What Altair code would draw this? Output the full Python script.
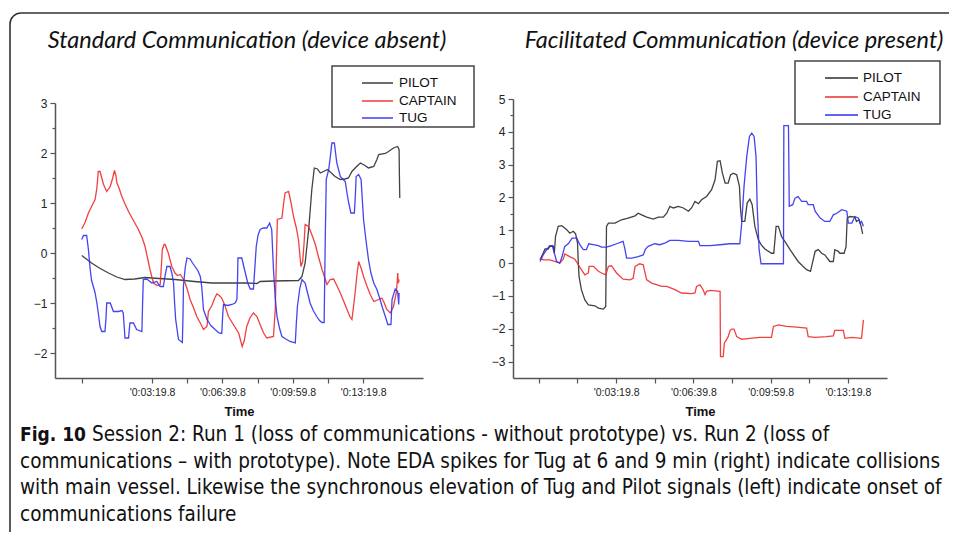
import altair as alt
import pandas as pd

SERIES = ["PILOT", "CAPTAIN", "TUG"]
COLORS = ["#2e2e2e", "#ee2b2b", "#3030f0"]

# ---- left panel (device absent): (seconds, EDA z-score)
L_PILOT = [(0,-0.05),(28,-0.2),(50,-0.3),(76,-0.4),(100,-0.48),(123,-0.53),(150,-0.52),(180,-0.49),
           (220,-0.51),(265,-0.53),(320,-0.57),(370,-0.6),(420,-0.6),(465,-0.6),(498,-0.61),(507,-0.57),
           (545,-0.56),(616,-0.55),(626,-0.47),(635,-0.2),(645,0.47),(654,1.27),(661,1.7),(670,1.68),
           (678,1.6),(699,1.67),(720,1.53),(735,1.47),(748,1.48),(758,1.5),(768,1.63),(780,1.72),
           (792,1.8),(805,1.75),(815,1.7),(830,1.73),(839,1.87),(844,1.97),(863,1.99),(872,2.03),
           (886,2.1),(898,2.13),(902,2.07),(903,1.53),(904,1.1)]
L_CAPTAIN = [(0,0.48),(10,0.62),(19,0.8),(28,0.93),(38,1.07),(43,1.3),(47,1.63),(52,1.63),(57,1.5),
             (62,1.37),(71,1.23),(81,1.33),(88,1.5),(93,1.65),(97,1.55),(100,1.4),(106,1.3),(114,1.13),
             (123,0.98),(133,0.83),(147,0.65),(161,0.47),(172,0.3),(180,0.13),(187,-0.1),(194,-0.33),
             (200,-0.5),(204,-0.6),(214,-0.65),(223,-0.63),(226,-0.3),(229,0.07),(234,0.17),(237,0.17),
             (246,0),(256,-0.27),(265,-0.4),(272,-0.45),(280,-0.43),(287,-0.5),(294,-0.6),(301,-0.75),
             (308,-0.93),(318,-1.1),(327,-1.27),(337,-1.4),(346,-1.53),(356,-1.47),(360,-1.17),
             (370,-1.05),(378,-0.9),(384,-0.82),(391,-0.85),(398,-0.9),(407,-1.05),(417,-1.27),
             (430,-1.42),(446,-1.6),(456,-1.87),(462,-1.75),(469,-1.47),(478,-1.3),(488,-1.2),
             (498,-1.27),(508,-1.45),(517,-1.6),(526,-1.7),(545,-1.67),(550,-1.13),(553,-0.2),
             (556,0.67),(569,0.7),(574,1.0),(578,1.2),(588,1.23),(595,1.0),(602,0.73),(610,0.5),
             (616,0.27),(623,-0.27),(628,-0.17),(632,0.2),(635,0.57),(645,0.53),(655,0.35),(664,0.17),
             (673,-0.08),(683,-0.33),(697,-0.63),(706,-0.53),(716,-0.52),(725,-0.65),(735,-0.8),
             (745,-0.97),(754,-1.13),(762,-1.27),(768,-1.33),(772,-1.1),(777,-0.8),(782,-0.45),
             (787,-0.17),(794,-0.3),(801,-0.47),(810,-0.65),(820,-0.83),(830,-0.97),(844,-0.93),
             (853,-0.9),(860,-1.0),(867,-1.13),(877,-1.2),(886,-1.07),(894,-0.8),(897,-0.55),
             (898,-0.4),(900,-0.6),(902,-0.53)]
L_TUG = [(0,0.27),(5,0.35),(14,0.35),(19,0.07),(24,-0.33),(28,-0.55),(33,-0.67),(38,-0.8),(43,-1.0),
         (47,-1.2),(52,-1.47),(57,-1.57),(66,-1.57),(69,-1.3),(71,-1.0),(81,-1.0),(90,-1.17),(104,-1.17),
         (114,-1.15),(118,-1.2),(121,-1.5),(123,-1.7),(133,-1.7),(137,-1.4),(147,-1.4),(156,-1.53),
         (171,-1.57),(173,-1.0),(175,-0.53),(185,-0.52),(199,-0.6),(213,-0.57),(223,-0.67),(232,-0.67),
         (237,-0.45),(242,-0.27),(251,-0.27),(256,-0.4),(261,-0.6),(264,-1.0),(267,-1.33),(275,-1.73),
         (286,-1.79),(288,-1.2),(289,-0.67),(294,-0.3),(299,-0.1),(308,-0.12),(315,-0.2),(322,-0.27),
         (330,-0.35),(337,-0.47),(341,-0.67),(346,-1.13),(356,-1.33),(367,-1.45),(379,-1.53),
         (390,-1.6),(398,-1.61),(401,-1.2),(403,-1.03),(415,-1.05),(427,-1.03),(436,-1.0),(441,-0.93),
         (443,-0.5),(444,-0.1),(455,-0.1),(465,-0.4),(472,-0.6),(479,-0.72),(488,-0.72),(492,-0.3),
         (496,0.13),(501,0.35),(507,0.47),(516,0.5),(526,0.5),(534,0.6),(540,0.47),(545,-0.33),
         (550,-0.9),(555,-1.27),(562,-1.5),(569,-1.67),(580,-1.72),(592,-1.77),(607,-1.8),(610,-1.4),
         (613,-1.07),(620,-0.7),(626,-0.53),(635,-0.6),(642,-0.8),(649,-1.0),(658,-1.15),(668,-1.27),
         (676,-1.35),(683,-1.39),(689,-1.39),(692,0.2),(695,1.47),(702,1.67),(707,1.95),(711,2.2),
         (718,2.2),(725,1.8),(735,1.53),(742,1.48),(749,1.43),(754,1.2),(758,1.03),(765,0.8),(775,0.8),
         (778,1.2),(780,1.53),(787,1.57),(794,1.47),(801,0.67),(808,0.25),(815,-0.13),(822,-0.4),
         (830,-0.6),(839,-0.73),(848,-0.93),(855,-1.1),(863,-1.27),(870,-1.43),(879,-1.43),(882,-0.93),
         (891,-0.72),(898,-0.77),(901,-1.03),(902,-0.8)]

# ---- right panel (device present)
R_PILOT = [(3,0.1),(11,0.3),(16,0.43),(24,0.43),(28,0.5),(37,0.52),(40,0.3),(43,0.81),(50,1.12),
           (59,1.14),(66,1.08),(72,1.02),(80,0.91),(89,0.97),(95,0.89),(100,0.61),(102,0.0),(104,-0.41),
           (110,-0.81),(119,-1.12),(128,-1.27),(145,-1.3),(154,-1.37),(167,-1.4),(173,-1.32),(175,1.12),
           (180,1.22),(197,1.22),(214,1.32),(231,1.37),(249,1.44),(257,1.52),(266,1.47),(279,1.4),
           (296,1.34),(309,1.4),(322,1.4),(331,1.52),(339,1.73),(348,1.68),(361,1.73),(374,1.68),
           (387,1.58),(395,1.68),(404,1.88),(413,1.81),(421,1.93),(434,2.03),(447,2.24),(456,2.54),
           (462,3.1),(469,3.12),(475,2.74),(482,2.44),(490,2.44),(496,2.69),(503,2.74),(512,2.69),
           (519,2.34),(522,1.63),(525,1.27),(533,1.27),(539,1.83),(546,1.95),(552,1.78),(559,1.12),
           (568,0.71),(576,0.55),(585,0.43),(602,0.3),(608,0.3),(614,1.12),(620,1.12),(628,0.81),
           (640,0.6),(650,0.41),(661,0.22),(671,0.05),(682,-0.08),(693,-0.2),(703,-0.25),(715,0.36),
           (723,0.41),(732,0.3),(740,0.25),(753,0.05),(762,0.05),(766,0.41),(775,0.36),(779,0.3),
           (790,0.3),(795,0.5),(798,1.37),(805,1.42),(818,1.4),(822,1.27),(829,1.32),(834,1.12),(838,0.89)]
R_CAPTAIN = [(3,0.15),(11,0.1),(28,0.1),(41,0.05),(54,0.0),(63,0.12),(67,0.28),(80,0.2),(93,0.12),
             (102,-0.05),(110,-0.2),(119,-0.36),(128,-0.3),(130,-0.1),(141,-0.1),(154,-0.25),(162,-0.3),
             (173,-0.36),(180,-0.1),(188,-0.08),(201,-0.3),(218,-0.49),(236,-0.51),(244,-0.46),(249,-0.1),
             (261,-0.02),(270,-0.05),(279,-0.51),(292,-0.61),(318,-0.71),(331,-0.71),(352,-0.81),
             (369,-0.91),(395,-0.93),(404,-0.91),(408,-0.71),(417,-0.66),(425,-0.81),(430,-0.96),
             (434,-0.86),(443,-0.83),(469,-0.86),(470,-2.85),(477,-2.85),(480,-2.44),(490,-2.24),
             (495,-2.05),(499,-2.01),(505,-2.01),(512,-2.24),(525,-2.32),(546,-2.29),(572,-2.26),
             (602,-2.26),(607,-1.93),(620,-1.88),(641,-1.93),(667,-1.95),(693,-1.98),(697,-2.24),
             (715,-2.26),(745,-2.24),(762,-2.22),(766,-2.05),(788,-2.05),(792,-2.29),(810,-2.26),
             (835,-2.29),(840,-1.73)]
R_TUG = [(3,0.05),(11,0.25),(20,0.41),(28,0.53),(35,0.53),(40,0.3),(46,0.05),(54,0.0),(60,0.2),
         (67,0.51),(76,0.59),(86,0.76),(98,0.76),(106,0.56),(115,0.41),(123,0.41),(129,0.59),(141,0.56),
         (154,0.53),(162,0.49),(175,0.49),(188,0.53),(201,0.59),(218,0.66),(223,0.41),(227,0.15),
         (240,0.15),(257,0.2),(270,0.25),(276,0.43),(283,0.51),(300,0.59),(313,0.56),(326,0.61),
         (339,0.69),(361,0.69),(387,0.66),(413,0.66),(417,0.53),(443,0.53),(469,0.56),(494,0.59),
         (520,0.59),(525,1.22),(531,2.34),(538,3.25),(545,3.86),(551,3.96),(557,3.86),(562,3.25),
         (565,1.73),(570,0.41),(575,-0.02),(633,-0.02),(634,4.19),(646,4.19),(648,1.73),(657,1.78),
         (663,1.98),(671,2.03),(680,1.88),(693,1.88),(697,1.78),(710,1.78),(715,1.58),(728,1.37),
         (740,1.27),(753,1.27),(762,1.47),(771,1.52),(784,1.63),(797,1.58),(801,1.22),(810,1.22),
         (818,1.42),(827,1.37),(831,1.22),(835,1.27),(840,1.12)]

X_TICKS_LEFT = [0, 199.8, 299.8, 399.8, 499.8, 599.8, 699.8, 799.8]
X_TICKS_RIGHT = [0, 99.8, 199.8, 299.8, 399.8, 499.8, 599.8, 699.8, 799.8]
X_LABELS = {199.8: "'0:03:19.8", 399.8: "'0:06:39.8", 599.8: "'0:09:59.8", 799.8: "'0:13:19.8"}
Y_TICKS_LEFT = [-2, -1, 0, 1, 2, 3]
Y_TICKS_RIGHT = [-3, -2, -1, 0, 1, 2, 3, 4, 5]

TITLE_LEFT = "Standard Communication (device absent)"
TITLE_RIGHT = "Facilitated Communication (device present)"
CAPTION_BOLD = "Fig. 10"
CAPTION_LINES = [
    "Session 2: Run 1 (loss of communications - without prototype) vs. Run 2 (loss of",
    "communications \u2013 with prototype). Note EDA spikes for Tug at 6 and 9 min (right) indicate collisions",
    "with main vessel. Likewise the synchronous elevation of Tug and Pilot signals (left) indicate onset of",
    "communications failure",
]


def frame(series_points):
    rows = []
    for name, pts in series_points:
        for t, v in pts:
            rows.append({"t": t, "v": v, "series": name})
    return pd.DataFrame(rows)


left_df = frame([("PILOT", L_PILOT), ("CAPTAIN", L_CAPTAIN), ("TUG", L_TUG)])
right_df = frame([("PILOT", R_PILOT), ("CAPTAIN", R_CAPTAIN), ("TUG", R_TUG)])

label_expr = " : ".join(f'datum.value == {k} ? "{v}"' for k, v in X_LABELS.items()) + " : ''"

AX = dict(grid=False, domainColor="#555555", domainWidth=1.5, tickColor="#555555", tickWidth=1.2,
          labelFont="Liberation Sans", labelColor="#222222")
color = alt.Color("series:N", scale=alt.Scale(domain=SERIES, range=COLORS), legend=None)
W, H = 941, 524


def panel(df, xdom, xrange, ydom, yrange, xticks, yticks, xoff, yoff):
    xs = alt.Scale(domain=xdom, range=xrange, nice=False, zero=False)
    ys = alt.Scale(domain=ydom, range=yrange, nice=False, zero=False)
    lines = alt.Chart(df).mark_line(strokeWidth=1.3, opacity=0.9, interpolate="linear").encode(
        x=alt.X("t:Q", scale=xs, axis=alt.Axis(orient="bottom", offset=xoff, values=xticks,
                                               labelExpr=label_expr, title="Time", tickSize=5,
                                               labelFontSize=10.5, labelPadding=4, labelOverlap=False,
                                               labelFlush=False, titleFont="Liberation Sans",
                                               titleFontSize=13, titleFontWeight="bold",
                                               titleColor="#111111", titlePadding=8, **AX)),
        y=alt.Y("v:Q", scale=ys, axis=alt.Axis(orient="left", offset=yoff, values=yticks, format="d",
                                               title=None, tickSize=5, labelFontSize=12,
                                               labelPadding=3, **AX)),
        color=color,
    )
    minor_vals = [y + 0.5 for y in range(int(ydom[0]), int(ydom[1]))]
    minor = alt.Chart(df).mark_point(opacity=0).encode(
        y=alt.Y("v:Q", scale=ys, axis=alt.Axis(orient="left", offset=yoff, values=minor_vals,
                                               labels=False, domain=False, title=None, tickSize=3,
                                               grid=False, tickColor="#555555", tickWidth=1.2)),
    )
    return lines, minor


lines_l, minor_l = panel(left_df, [-76, 970], [47, 415], [-2.5, 3], [370, 95],
                         X_TICKS_LEFT, Y_TICKS_LEFT, -(H - 370), -47)
lines_r, minor_r = panel(right_df, [-67, 901], [505, 879], [-3.5, 5], [370, 91],
                         X_TICKS_RIGHT, Y_TICKS_RIGHT, -(H - 370), -505)

one = pd.DataFrame({"a": [0]})
deco = []

# frame around figure
deco.append(alt.Chart(one).mark_rect(cornerRadius=11, fillOpacity=0, stroke="#333333", strokeWidth=1.6).encode(
    x=alt.value(2), x2=alt.value(1000), y=alt.value(5), y2=alt.value(620)))

# panel titles
for txt, cx in [(TITLE_LEFT, 239), (TITLE_RIGHT, 726)]:
    deco.append(alt.Chart(one).mark_text(font="Lato", fontStyle="italic", fontSize=23.5, align="center",
                                         baseline="alphabetic", color="#111111").encode(
        x=alt.value(cx), y=alt.value(40), text=alt.value(txt)))

# legend boxes
for (bx0, by0, bx1, by1, lx0, lx1, tx, ys) in [
        (324, 58, 466, 119, 354, 385, 391, [75, 93, 110]),
        (787, 53, 932, 116, 817, 850, 855, [70, 89, 107])]:
    deco.append(alt.Chart(one).mark_rect(fillOpacity=0, stroke="#444444", strokeWidth=1.5).encode(
        x=alt.value(bx0), x2=alt.value(bx1), y=alt.value(by0), y2=alt.value(by1)))
    for name, col, yy in zip(SERIES, COLORS, ys):
        deco.append(alt.Chart(one).mark_rule(color=col, strokeWidth=1.4).encode(
            x=alt.value(lx0), x2=alt.value(lx1), y=alt.value(yy)))
        deco.append(alt.Chart(one).mark_text(font="Liberation Sans", fontSize=13.5, align="left",
                                             baseline="middle", color="#111111").encode(
            x=alt.value(tx), y=alt.value(yy), text=alt.value(name)))

# caption
CAP_FONT = "DejaVu Sans Condensed, Liberation Sans Narrow, sans-serif"
deco.append(alt.Chart(one).mark_text(font=CAP_FONT, fontSize=19, fontWeight="bold", align="left",
                                     baseline="middle", color="#111111").encode(
    x=alt.value(12), y=alt.value(427), text=alt.value(CAPTION_BOLD)))
for i, line in enumerate(CAPTION_LINES):
    deco.append(alt.Chart(one).mark_text(font=CAP_FONT, fontSize=20.5, align="left",
                                         baseline="middle", color="#111111").encode(
        x=alt.value(84 if i == 0 else 12), y=alt.value(427 + i * 26.7), text=alt.value(line)))

chart = alt.layer(lines_l, minor_l, lines_r, minor_r, *deco).resolve_scale(
    x="independent", y="independent"
).properties(
    width=W, height=H, padding=0, autosize=alt.AutoSizeParams(type="none"), background="white"
).configure_view(stroke=None)

chart.save("out.html", embed_options={"renderer": "svg", "actions": False})
